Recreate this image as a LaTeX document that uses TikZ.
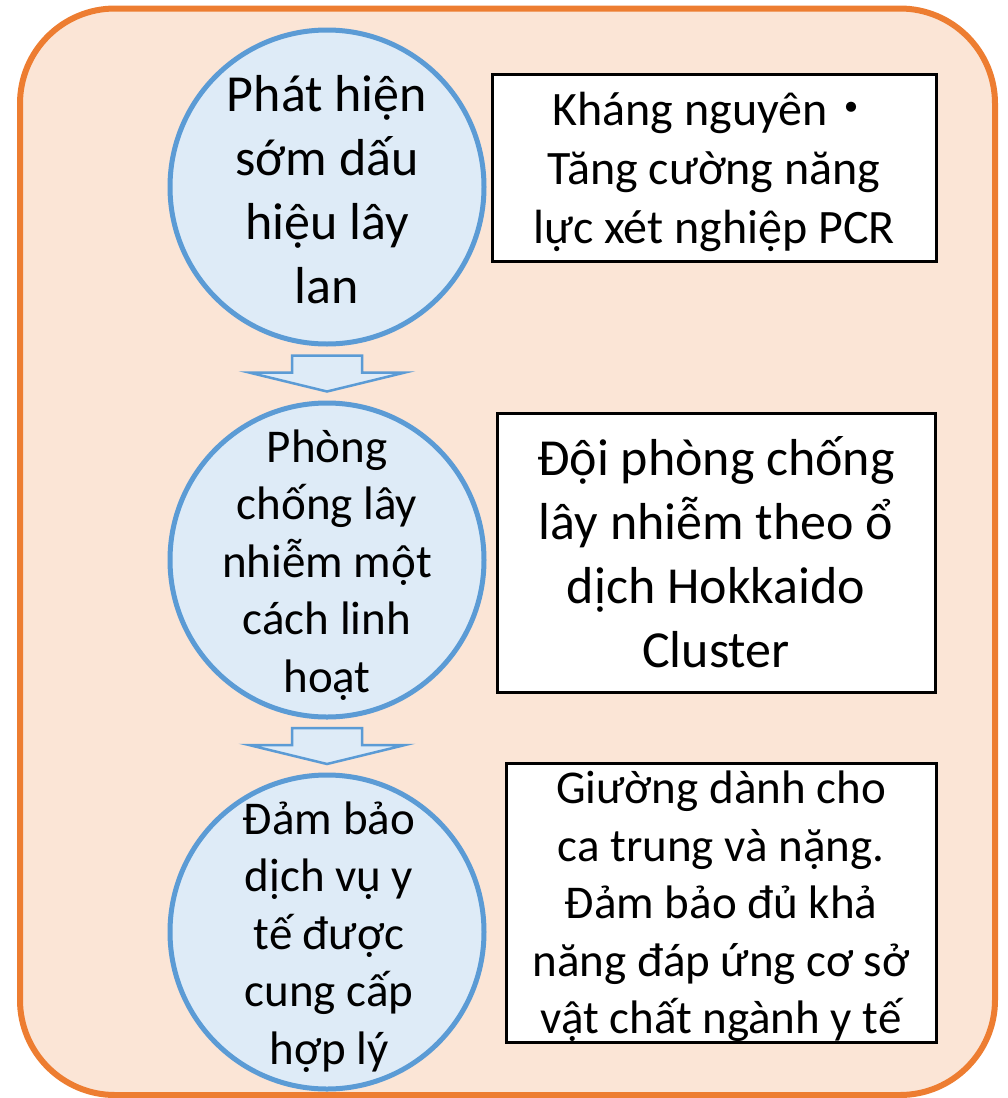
\documentclass[tikz,border=0pt]{standalone}
\usepackage{fontspec}
\setmainfont{Carlito}
\newfontfamily\cjk{Noto Sans CJK JP}
\usepackage{tikz}
\usetikzlibrary{calc}
\definecolor{frameorange}{HTML}{ED7D31}
\definecolor{framefill}{HTML}{FBE5D6}
\definecolor{stageblue}{HTML}{5B9BD5}
\definecolor{stagefill}{HTML}{DEEBF7}
\tikzset{
  stage/.style={draw=stageblue, line width=5pt, fill=stagefill, circle, minimum size=314pt, inner sep=0pt},
  stagetext/.style={align=center, inner sep=0pt},
  measure/.style={draw=black, line width=3pt, fill=white, align=center, inner sep=0pt},
  big/.style={font=\fontsize{52}{64}\selectfont},
  mid/.style={font=\fontsize{48}{59}\selectfont},
  small/.style={font=\fontsize{47}{57.5}\selectfont},
  flowdown/.pic={\draw[stageblue, line width=2.5pt, fill=stagefill, line join=miter]
    (-35,-18) -- (35,-18) -- (35,-1) -- (78,-1) -- (0,18) -- (-78,-1) -- (-35,-1) -- cycle;}
}
\begin{document}
\begin{tikzpicture}[x=1pt, y=-1pt]
  \useasboundingbox (0,0) rectangle (1008,1098);
  \draw[frameorange, line width=6pt, fill=framefill, rounded corners=95pt] (20,8.5) rectangle (995,1095);

  % stages
  \node[stage] (c1) at (327,187) {};
  \node[stage] (c2) at (327,560) {};
  \node[stage] (c3) at (327,932) {};
  \node[stagetext, big] (t1) at ($(c1)+(0,3)$) {Phát hiện\\sớm dấu\\hiệu lây\\lan};
  \node[stagetext, small] (t2) at ($(c2)+(0,5)$) {Phòng\\chống lây\\nhiễm một\\cách linh\\hoạt};
  \node[stagetext, small] (t3) at ($(c3)+(2,5)$) {Đảm bảo\\dịch vụ y\\tế được\\cung cấp\\hợp lý};

  \pic at ($(c1.south)!0.5!(c2.north)$) {flowdown};
  \pic at ($(c2.south)!0.5!(c3.north)$) {flowdown};

  % measures
  \node[measure, mid, minimum width=444pt, minimum height=187pt] (m1) at (714,167.5) {};
  \node[stagetext, mid] at ($(m1)+(0,4)$) {Kháng nguyên{\cjk ・}\\Tăng cường năng\\lực xét nghiệp PCR};
  \node[measure, big, minimum width=438pt, minimum height=279pt] (m2) at (716,552.5)
    {Đội phòng chống\\lây nhiễm theo ổ\\dịch Hokkaido\\Cluster};
  \node[measure, small, minimum width=430pt, minimum height=279pt] (m3) at (721,902.5) {};
  \node[stagetext, small] at ($(m3)+(0,4)$) {Giường dành cho\\ca trung và nặng.\\Đảm bảo đủ khả\\năng đáp ứng cơ sở\\vật chất ngành y tế};
\end{tikzpicture}
\end{document}
